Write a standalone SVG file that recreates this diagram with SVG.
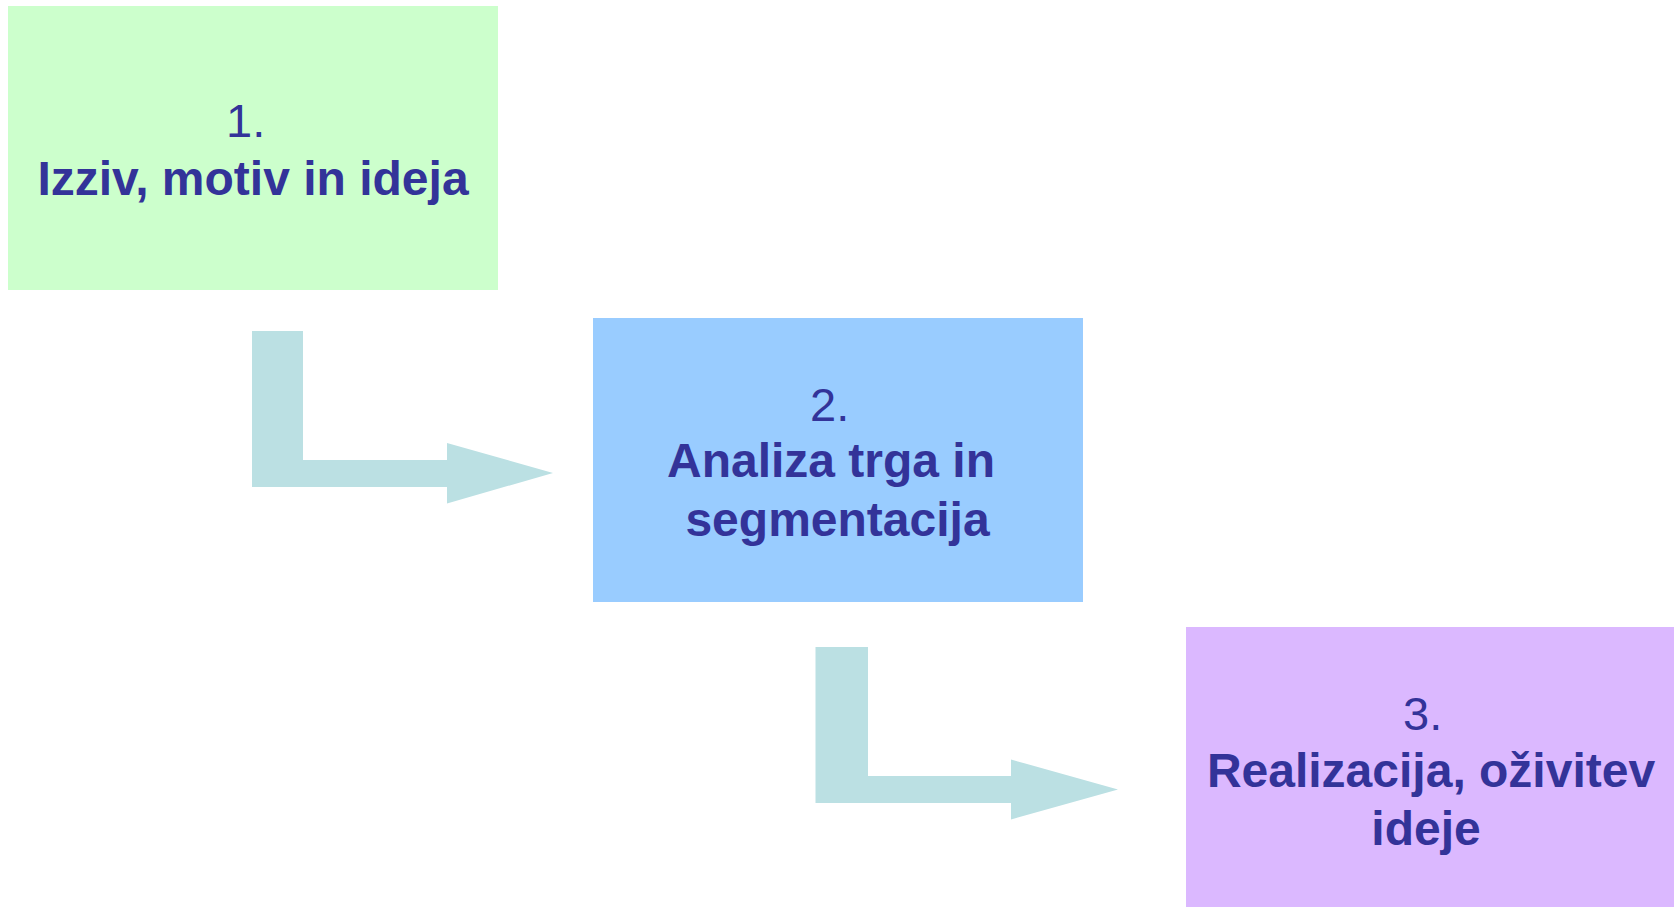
<svg xmlns="http://www.w3.org/2000/svg" width="1674" height="907" viewBox="0 0 1674 907">
<style>
.num{font-family:"Liberation Sans",Arial,sans-serif;font-size:47px;fill:#333399}
.lbl{font-family:"Liberation Sans",Arial,sans-serif;font-size:48px;font-weight:bold;fill:#333399;text-anchor:middle}
.arrow{fill:#BBE0E3}
</style>
<rect width="1674" height="907" fill="#ffffff"/>
<g id="connectors">
<polygon class="arrow" points="252,331 303,331 303,460 447,460 447,443 553,473 447,503.5 447,487 252,487"/>
<polygon class="arrow" points="815.5,647 868,647 868,776 1011,776 1011,759.5 1118,789.5 1011,819.5 1011,803 815.5,803"/>
</g>
<g id="node1">
<rect x="8" y="6" width="490" height="284" fill="#CCFFCC"/>
<text class="num" x="226" y="137">1.</text>
<text class="lbl" x="253" y="195">Izziv, motiv in ideja</text>
</g>
<g id="node2">
<rect x="593" y="318" width="490" height="284" fill="#99CCFF"/>
<text class="num" x="810" y="421">2.</text>
<text class="lbl" x="831" y="477">Analiza trga in</text>
<text class="lbl" x="837.5" y="536">segmentacija</text>
</g>
<g id="node3">
<rect x="1186" y="627" width="488" height="280" fill="#DBB8FF"/>
<text class="num" x="1403" y="730">3.</text>
<text class="lbl" x="1431" y="787">Realizacija, oživitev</text>
<text class="lbl" x="1426" y="845">ideje</text>
</g>
</svg>
